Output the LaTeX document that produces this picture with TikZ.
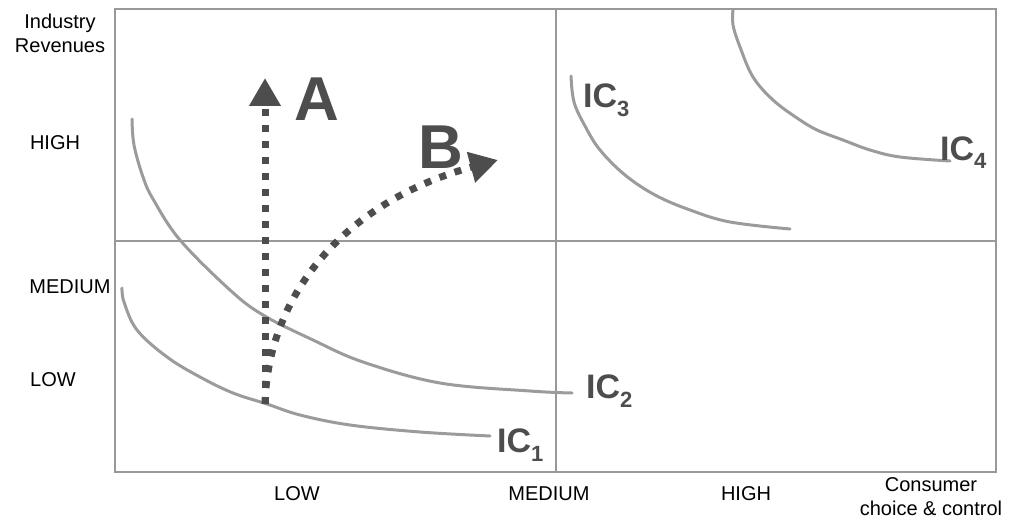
\documentclass[tikz,border=0pt]{standalone}
\usepackage{fontspec}
\setmainfont{Liberation Sans}
\usetikzlibrary{arrows.meta, positioning}
\definecolor{framegray}{RGB}{153,153,153}
\definecolor{curvegray}{RGB}{155,155,155}
\definecolor{arrowdark}{RGB}{77,77,77}

\newcommand{\icsub}[1]{\raisebox{-9pt}{\fontsize{22}{22}\selectfont #1}}

\tikzset{
  axislabel/.style={font=\fontsize{20}{24}\selectfont, align=center, inner sep=0pt},
  iccurve/.style={curvegray, line width=3pt, line cap=round},
  pathlabel/.style={text=arrowdark, font=\fontsize{62}{62}\selectfont\bfseries, inner sep=0pt},
  iclabel/.style={text=arrowdark, font=\fontsize{34}{34}\selectfont\bfseries, inner sep=0pt, anchor=base west},
  movearrow/.style={arrowdark, line width=7pt, dash pattern=on 7pt off 9pt,
                    -{Triangle[width=30pt,length=28pt]}}
}

\begin{document}
\begin{tikzpicture}[x=1pt, y=-1pt]
        \useasboundingbox (0,0) rectangle (1011,524);
        % quadrant frame
        \draw[framegray, line width=2pt] (115,9) rectangle (996,472);
        \draw[framegray, line width=2pt] (556,9) -- (556,472);
        \draw[framegray, line width=2pt] (115,241) -- (996,241);

        % axis texts
        \node[axislabel] (revenues) at (60,33) {Industry\\Revenues};
        \node[axislabel] (yhigh) at (55,143) {HIGH};
        \node[axislabel] (ymedium) at (70,287) {MEDIUM};
        \node[axislabel] (ylow) at (53,380) {LOW};
        \node[axislabel] (xlow) at (297,494) {LOW};
        \node[axislabel] (xmedium) at (549,494) {MEDIUM};
        \node[axislabel] (xhigh) at (746,494) {HIGH};
        \node[axislabel] (consumer) at (931,497) {Consumer\\choice \& control};

        % indifference curves
        \draw[iccurve] plot[smooth, tension=0.6] coordinates {(122,288) (124,302) (137,330) (167,357)
          (200,377) (233,393) (267,404) (300,415) (350,425) (420,432) (490,436)};
        \draw[iccurve] plot[smooth, tension=0.6] coordinates {(132,119) (134,145) (143,177) (153,199)
          (180,240) (230,290) (263,315) (313,340) (363,362) (440,383) (530,391) (572,393)};
        \draw[iccurve] plot[smooth, tension=0.6] coordinates {(571,76) (574,102) (585,126) (600,150)
          (625,175) (655,195) (690,210) (730,222) (790,229)};
        \draw[iccurve] plot[smooth, tension=0.6] coordinates {(733,10) (733,25) (740,47) (753,77)
          (773,100) (797,118) (817,130) (843,140) (870,150) (900,157) (950,161)};

        \node[iclabel] (ic1) at (497,452) {IC\icsub{1}};
        \node[iclabel] (ic2) at (586,398) {IC\icsub{2}};
        \node[iclabel] (ic3) at (583,108) {IC\icsub{3}};
        \node[iclabel] (ic4) at (940,160) {IC\icsub{4}};

        % strategic moves
        \coordinate (start) at (265,404);
        \coordinate (atop) at (265,78);
        \coordinate (bend) at (498,160);
        \draw[movearrow] (start) -- (atop);
        \draw[movearrow] (start) .. controls (268,290) and (350,200) .. (bend);
        \node[pathlabel] (labA) at (317,99) {A};
        \node[pathlabel] (labB) at (441,147) {B};
      \end{tikzpicture}
\end{document}
